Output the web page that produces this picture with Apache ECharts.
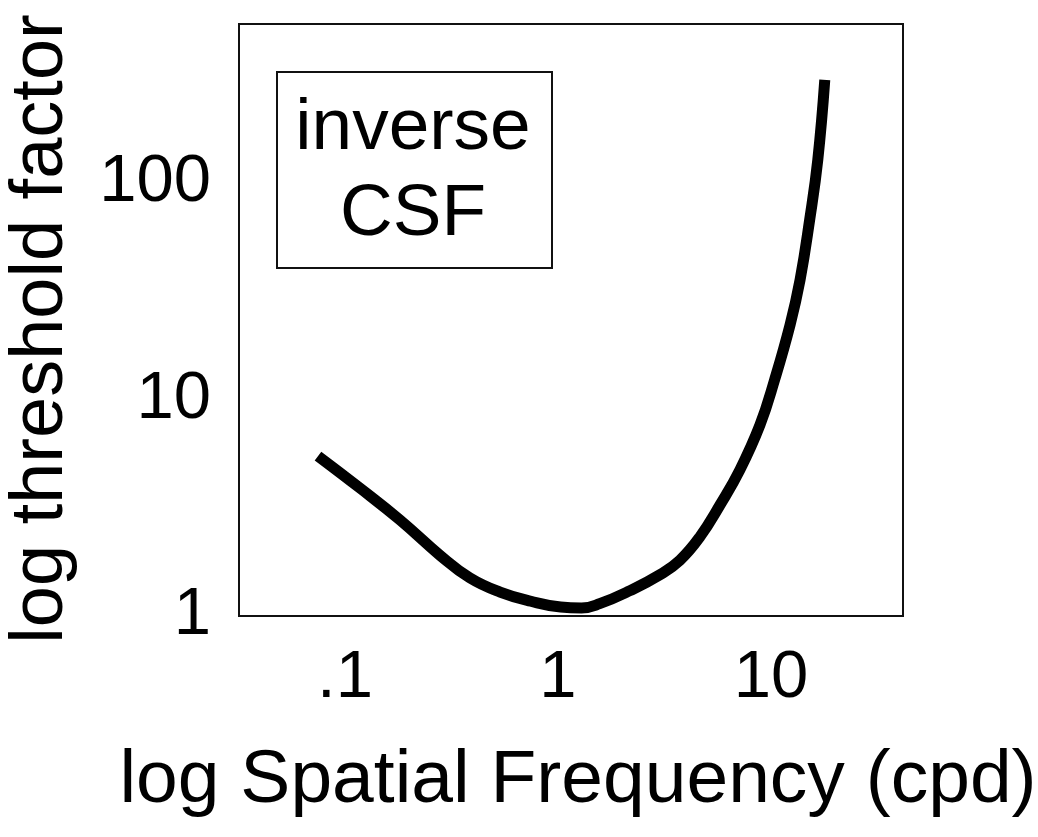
<!DOCTYPE html>
<html>
<head>
<meta charset="utf-8">
<title>inverse CSF</title>
<script src="https://cdn.jsdelivr.net/npm/echarts@6/dist/echarts.min.js"></script>
<style>
  html, body { margin: 0; padding: 0; background: #fff; }
  #chart { width: 1038px; height: 837px; }
</style>
</head>
<body>
<div id="chart"></div>
<script>
// spatial frequency (cpd) and threshold factor
const freq = [0.0747, 0.1175, 0.181, 0.279, 0.386, 0.535, 0.746, 1.03, 1.29, 1.57, 2.18, 3.01, 3.74, 4.64, 5.77, 7.15, 8.88, 10.4, 12.3, 13.7, 15.2, 16.6, 17.9];
const threshold = [5.48, 3.90, 2.78, 1.91, 1.50, 1.29, 1.17, 1.10, 1.09, 1.14, 1.31, 1.55, 1.81, 2.32, 3.26, 4.73, 7.62, 12.3, 22.1, 35.6, 67.5, 128, 299];
const xTicks = [0.1, 1, 10];
const yTicks = [1, 10, 100];
const xLabels = { 0.1: '.1', 1: '1', 10: '10' };

const font = 'Liberation Sans, Arial, sans-serif';
const chart = echarts.init(document.getElementById('chart'));

chart.setOption({
    animation: false,
    grid: {
        left: 239, top: 24, width: 664, height: 592,
        outerBoundsMode: 'none',
        containLabel: false,
        show: true, borderColor: '#111', borderWidth: 2,
        backgroundColor: 'transparent'
    },
    xAxis: {
        type: 'log',
        min: 0.0318,
        max: 41.7,
        name: 'log Spatial Frequency (cpd)',
        nameLocation: 'middle',
        nameGap: 128,
        nameTextStyle: { fontFamily: font, fontSize: 75, color: '#000', padding: [0, 0, 0, 14] },
        axisLine: { show: false },
        axisTick: { show: false },
        splitLine: { show: false },
        axisLabel: {
            customValues: xTicks,
            formatter: (v) => xLabels[v] !== undefined ? xLabels[v] : String(v),
            fontFamily: font, fontSize: 67, color: '#000', margin: 29
        }
    },
    yAxis: {
        type: 'log',
        min: 1,
        max: 542,
        name: 'log threshold factor',
        nameLocation: 'middle',
        nameGap: 160,
        nameTextStyle: { fontFamily: font, fontSize: 74, color: '#000', padding: [0, 18, 0, 0] },
        axisLine: { show: false },
        axisTick: { show: false },
        splitLine: { show: false },
        axisLabel: {
            customValues: yTicks,
            formatter: (v) => String(Math.round(v)),
            fontFamily: font, fontSize: 67, color: '#000', margin: 28
        }
    },
    graphic: [{
        type: 'group',
        children: [{
            type: 'rect',
            shape: { x: 277, y: 72, width: 275, height: 196 },
            style: { fill: 'none', stroke: '#111', lineWidth: 2 }
        }, {
            type: 'text',
            x: 413, y: 172,
            style: {
                text: 'inverse\nCSF',
                font: '73px ' + font,
                fill: '#000',
                align: 'center',
                verticalAlign: 'middle',
                lineHeight: 86
            }
        }]
    }],
    series: [{
        type: 'line',
        data: freq.map((f, i) => [f, threshold[i]]),
        smooth: 0.45,
        showSymbol: false,
        lineStyle: { color: '#000', width: 11, cap: 'butt' }
    }]
});
</script>
</body>
</html>
